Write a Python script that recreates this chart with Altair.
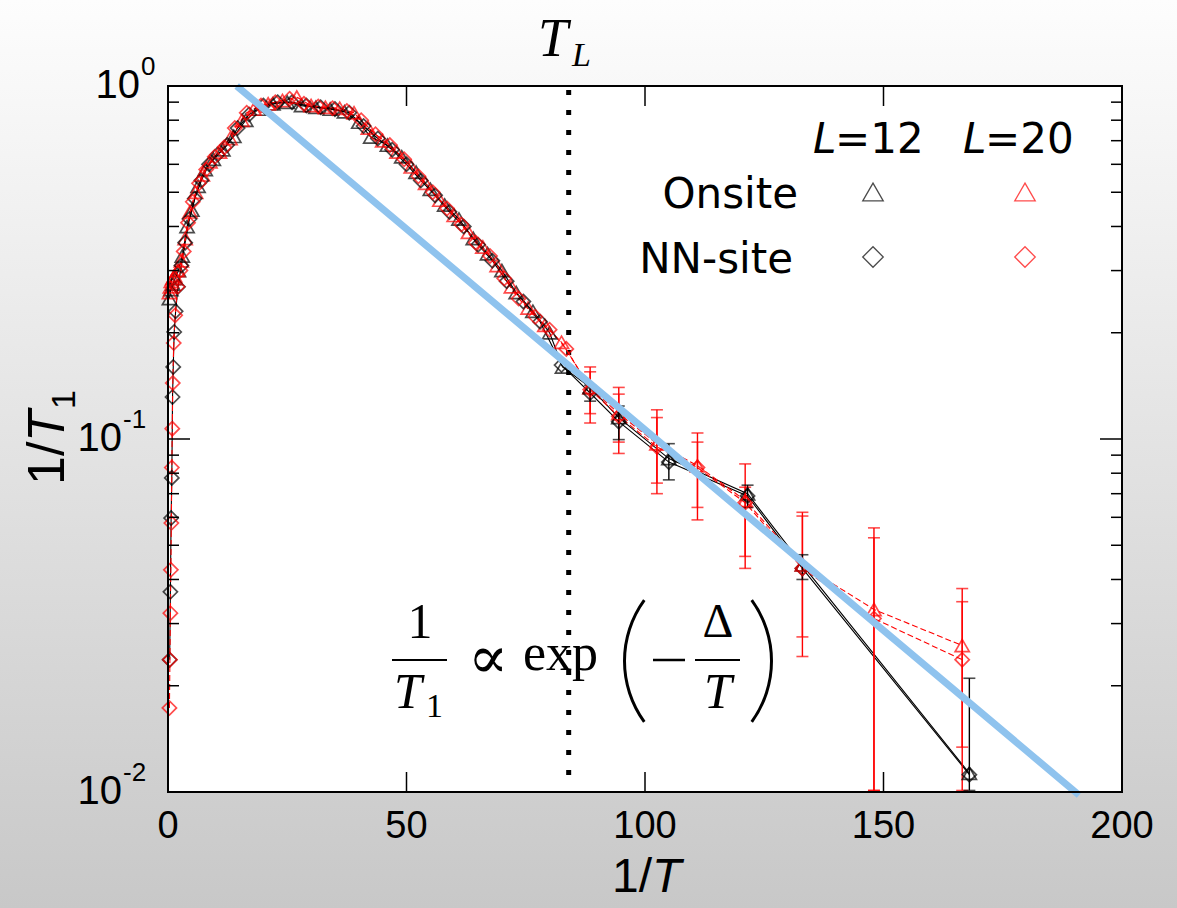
import altair as alt
import pandas as pd

# ---------------- data ----------------
# Onsite, L=12 (black triangles)
x_on12 = [0.3, 0.6, 1.0, 1.5, 2.2, 3.0, 4.0, 5.0, 6.3, 7.8, 9.5, 11.5, 13.8, 16.3, 19.0, 22.0, 25.0, 28.0,
          31.0, 34.0, 37.0, 40.0, 42.5, 46.0, 49.0, 52.0, 55.0, 58.0, 61.0, 64.0, 67.0, 70.0, 73.0, 76.5,
          80.0, 82.7, 88.5, 94.5, 105.0, 121.5, 133.0, 168.0]
y_on12 = [0.25, 0.265, 0.275, 0.285, 0.30, 0.33, 0.40, 0.445, 0.52, 0.58, 0.62, 0.66, 0.72, 0.80, 0.86, 0.89,
          0.90, 0.88, 0.87, 0.86, 0.845, 0.79, 0.717, 0.68, 0.63, 0.57, 0.51, 0.46, 0.42, 0.37, 0.335, 0.30,
          0.26, 0.23, 0.20, 0.16, 0.14, 0.115, 0.088, 0.070, 0.044, 0.0113]

# Onsite, L=20 (red triangles)
x_on20 = [0.3, 0.5, 0.7, 1.0, 1.4, 2.0, 2.8, 3.6, 4.6, 5.8, 7.2, 8.8, 10.8, 13.0, 15.5, 18.0, 21.0, 24.0,
          27.0, 30.0, 33.0, 36.0, 39.0, 42.0, 45.0, 48.0, 51.0, 54.0, 57.0, 60.0, 63.0, 66.0, 69.0, 72.0,
          75.5, 79.0, 82.5, 88.5, 94.5, 102.5, 111.0, 121.0, 133.0, 148.0, 166.5]
y_on20 = [0.26, 0.27, 0.28, 0.285, 0.29, 0.30, 0.32, 0.37, 0.44, 0.50, 0.56, 0.61, 0.65, 0.71, 0.80, 0.86,
          0.89, 0.91, 0.93, 0.88, 0.87, 0.865, 0.84, 0.76, 0.70, 0.65, 0.59, 0.53, 0.475, 0.43, 0.385, 0.35,
          0.31, 0.27, 0.235, 0.21, 0.188, 0.14, 0.118, 0.097, 0.084, 0.067, 0.044, 0.0329, 0.026]

# NN-site, L=12 (black diamonds)
x_nn12 = [0.35, 0.5, 0.65, 0.8, 0.95, 1.1, 1.3, 1.6, 2.1, 2.8, 3.6, 4.5, 5.6, 7.0, 8.6, 10.4, 12.4, 14.6,
          17.0, 20.0, 23.0, 26.0, 29.0, 32.0, 35.0, 38.0, 41.0, 44.0, 47.0, 50.0, 53.0, 56.0, 59.0, 62.0,
          65.0, 68.0, 71.0, 74.5, 78.0, 82.5, 88.5, 94.5, 105.0, 121.5, 133.0, 168.0]
y_nn12 = [0.0237, 0.0369, 0.0597, 0.0776, 0.1315, 0.160, 0.201, 0.23, 0.27, 0.31, 0.36, 0.42, 0.48, 0.54,
          0.60, 0.64, 0.68, 0.76, 0.83, 0.88, 0.90, 0.90, 0.88, 0.87, 0.86, 0.84, 0.77, 0.71, 0.66, 0.60,
          0.54, 0.49, 0.44, 0.40, 0.355, 0.32, 0.28, 0.245, 0.215, 0.162, 0.135, 0.112, 0.086, 0.069, 0.043,
          0.0112]

# NN-site, L=20 (red diamonds)
x_nn20 = [0.3, 0.4, 0.5, 0.6, 0.7, 0.8, 0.9, 1.0, 1.2, 1.5, 2.0, 2.6, 3.3, 4.2, 5.2, 6.5, 8.0, 9.8, 11.8,
          14.0, 16.5, 19.5, 22.5, 25.5, 28.5, 31.5, 34.5, 37.5, 40.5, 43.5, 46.5, 49.5, 52.5, 55.5, 58.5,
          61.5, 64.5, 67.5, 70.5, 73.5, 77.0, 80.0, 83.5, 88.5, 94.5, 102.5, 111.0, 121.0, 133.0, 148.0, 166.5]
y_nn20 = [0.0173, 0.0237, 0.0321, 0.0426, 0.0578, 0.083, 0.107, 0.144, 0.187, 0.224, 0.27, 0.30, 0.34, 0.41,
          0.47, 0.53, 0.58, 0.63, 0.67, 0.76, 0.84, 0.88, 0.90, 0.92, 0.89, 0.875, 0.865, 0.85, 0.80, 0.73,
          0.68, 0.62, 0.555, 0.50, 0.45, 0.405, 0.36, 0.33, 0.285, 0.25, 0.222, 0.204, 0.18, 0.138, 0.116,
          0.095, 0.083, 0.066, 0.043, 0.031, 0.0237]

# error bars (x, lower, upper)
err20_x = [88.5, 94.5, 102.5, 111.0, 121.0, 133.0, 148.0, 166.5,
           88.5, 94.5, 102.5, 111.0, 121.0, 133.0, 148.0, 166.5]
err20_lo = [0.111, 0.091, 0.070, 0.059, 0.043, 0.0242, 0.0101, 0.0101,
            0.118, 0.098, 0.075, 0.064, 0.0465, 0.0275, 0.0101, 0.0134]
err20_hi = [0.160, 0.140, 0.121, 0.104, 0.085, 0.062, 0.056, 0.0377,
            0.155, 0.134, 0.115, 0.098, 0.073, 0.0605, 0.0525, 0.0346]
err12_x = [88.5, 94.5, 105.0, 121.5, 133.0, 168.0]
err12_lo = [0.128, 0.0996, 0.0766, 0.064, 0.040, 0.0101]
err12_hi = [0.142, 0.124, 0.097, 0.074, 0.047, 0.021]

# exponential guide line
fit_x = [14.4, 191.0]
fit_y = [1.0, 0.0098]

# T_L marker
tl_x = [84.0]

# axis ticks and labels
x_ticks = [0, 50, 100, 150, 200]
x_inner_ticks = [50, 100, 150]
y_major = [0.01, 0.1, 1.0]
y_minor = [0.02, 0.03, 0.04, 0.05, 0.06, 0.07, 0.08, 0.09, 0.2, 0.3, 0.4, 0.5, 0.6, 0.7, 0.8, 0.9]

# ---------------- chart ----------------
W, H = 954, 706
xs = alt.Scale(domain=[0, 200], nice=False, zero=False)
ys = alt.Scale(type="log", domain=[0.01, 1], nice=False)


def X(f):
    return alt.X(f, scale=xs, axis=None)


def Y(f):
    return alt.Y(f, scale=ys, axis=None)


rows = []
for kind, L, xv, yv in [("Onsite", "12", x_on12, y_on12), ("Onsite", "20", x_on20, y_on20),
                        ("NN-site", "12", x_nn12, y_nn12), ("NN-site", "20", x_nn20, y_nn20)]:
    for a, b in zip(xv, yv):
        rows.append({"x": a, "y": b, "kind": kind, "L": L, "series": kind + L})
df = pd.DataFrame(rows)

err = pd.DataFrame(
    [{"x": a, "lo": l, "hi": h, "L": "20"} for a, l, h in zip(err20_x, err20_lo, err20_hi)]
    + [{"x": a, "lo": l, "hi": h, "L": "12"} for a, l, h in zip(err12_x, err12_lo, err12_hi)]
)

cscale = alt.Scale(domain=["12", "20"], range=["#000000", "#ff0000"])
color = alt.Color("L:N", scale=cscale, legend=None)
shape = alt.Shape("kind:N", scale=alt.Scale(domain=["Onsite", "NN-site"], range=["triangle-up", "diamond"]),
                  legend=None)

one = alt.Data(values=[{"a": 1}])


def txt(text, x, y, size, font="Liberation Sans", style="normal", align="left",
        baseline="alphabetic", angle=0):
    return alt.Chart(one).mark_text(text=text, font=font, fontSize=size, fontStyle=style, align=align,
                                    baseline=baseline, angle=angle, color="black").encode(
        x=alt.value(x), y=alt.value(y))


bg = alt.Chart(one).mark_rect(
    fill={"gradient": "linear", "x1": 0, "y1": 0, "x2": 0, "y2": 1,
          "stops": [{"offset": 0, "color": "#fdfdfd"}, {"offset": 1, "color": "#c8c8c8"}]},
    clip=False).encode(x=alt.value(-168), x2=alt.value(W + 55), y=alt.value(-86), y2=alt.value(H + 116))
plotbg = alt.Chart(one).mark_rect(fill="white").encode(
    x=alt.value(0), x2=alt.value(W), y=alt.value(0), y2=alt.value(H))

dotted = alt.Chart(pd.DataFrame({"v": tl_x})).mark_rule(
    color="black", strokeWidth=5, strokeDash=[5, 15], strokeCap="butt").encode(
    x=X("v:Q"), y=alt.value(4), y2=alt.value(H - 2))

lines_black = alt.Chart(df[df.L == "12"]).mark_line(strokeWidth=1.1, color="black").encode(
    x=X("x:Q"), y=Y("y:Q"), detail="series:N", order="x:Q")
lines_red = alt.Chart(df[df.L == "20"]).mark_line(strokeWidth=1.1, color="#ff0000", strokeDash=[6, 3]).encode(
    x=X("x:Q"), y=Y("y:Q"), detail="series:N", order="x:Q")

ebars = alt.Chart(err).mark_rule(strokeWidth=1.4).encode(
    x=X("x:Q"), y=Y("lo:Q"), y2="hi:Q", color=color)
caps_lo = alt.Chart(err).mark_tick(orient="horizontal", size=12, thickness=1.6).encode(
    x=X("x:Q"), y=Y("lo:Q"), color=color)
caps_hi = alt.Chart(err).mark_tick(orient="horizontal", size=12, thickness=1.6).encode(
    x=X("x:Q"), y=Y("hi:Q"), color=color)

pts = alt.Chart(df).mark_point(filled=False, size=200, strokeWidth=1.7, clip=False).encode(
    x=X("x:Q"), y=Y("y:Q"), color=color, shape=shape)

fit = alt.Chart(pd.DataFrame({"x": fit_x, "y": fit_y})).mark_line(
    color="#8fc3ee", strokeWidth=7, clip=False, strokeCap="butt").encode(x=X("x:Q"), y=Y("y:Q"))

frame = alt.Chart(one).mark_rect(fill="white", fillOpacity=0, stroke="black", strokeWidth=2).encode(
    x=alt.value(0), x2=alt.value(W), y=alt.value(0), y2=alt.value(H))

ymaj = pd.DataFrame({"v": y_major})
ymin = pd.DataFrame({"v": y_minor})
tick_layers = [
    alt.Chart(ymaj).mark_rule(color="black", strokeWidth=1.5).encode(y=Y("v:Q"), x=alt.value(0), x2=alt.value(22)),
    alt.Chart(ymin).mark_rule(color="black", strokeWidth=1.5).encode(y=Y("v:Q"), x=alt.value(0), x2=alt.value(11)),
    alt.Chart(ymaj).mark_rule(color="black", strokeWidth=1.5).encode(y=Y("v:Q"), x=alt.value(W - 22), x2=alt.value(W)),
    alt.Chart(ymin).mark_rule(color="black", strokeWidth=1.5).encode(y=Y("v:Q"), x=alt.value(W - 11), x2=alt.value(W)),
    alt.Chart(pd.DataFrame({"v": x_inner_ticks})).mark_rule(color="black", strokeWidth=1.5).encode(
        x=X("v:Q"), y=alt.value(H - 20), y2=alt.value(H)),
    alt.Chart(pd.DataFrame({"v": x_inner_ticks})).mark_rule(color="black", strokeWidth=1.5).encode(
        x=X("v:Q"), y=alt.value(0), y2=alt.value(20)),
]

xlabels = alt.Chart(pd.DataFrame({"v": x_ticks, "t": [str(v) for v in x_ticks]})).mark_text(
    font="Liberation Sans", fontSize=38, align="center", baseline="alphabetic", color="black").encode(
    x=X("v:Q"), y=alt.value(752), text="t:N")


def ylab(val, exp, base_right):
    base = alt.Chart(one).mark_text(text="10", font="Liberation Sans", fontSize=40, align="right",
                                    baseline="middle", color="black").encode(
        x=alt.value(base_right), y=alt.datum(val, scale=ys))
    sup = alt.Chart(one).mark_text(text=exp, font="Liberation Sans", fontSize=26, align="left",
                                   baseline="middle", dy=-19, color="black").encode(
        x=alt.value(base_right + 1), y=alt.datum(val, scale=ys))
    return [base, sup]


ylabels = ylab(1.0, "0", -28) + ylab(0.1, "-1", -46) + ylab(0.01, "-2", -46)

titles = [
    # x title 1/T
    txt("1/", 444, 806, 48, align="left"),
    txt("T", 484, 806, 48, style="italic", align="left"),
    # y title 1/T1 (rotated)
    txt("1/", -104, 399, 52, angle=270),
    txt("T", -104, 356, 52, style="italic", angle=270),
    txt("1", -93, 323, 34, angle=270),
    # T_L
    txt("T", 370, -30, 54, font="Liberation Serif", style="italic"),
    txt("L", 404, -20, 34, font="Liberation Serif", style="italic"),
]

legend = [
    txt("L", 645, 67, 42, font="DejaVu Sans", style="italic"),
    txt("=12", 667, 67, 42, font="DejaVu Sans"),
    txt("L", 795, 67, 42, font="DejaVu Sans", style="italic"),
    txt("=20", 817, 67, 42, font="DejaVu Sans"),
    txt("Onsite", 630, 122, 42, font="DejaVu Sans", align="right"),
    txt("NN-site", 625, 187, 42, font="DejaVu Sans", align="right"),
    alt.Chart(one).mark_point(shape="triangle-up", size=420, filled=False, strokeWidth=1.3, color="black").encode(
        x=alt.value(705), y=alt.value(106)),
    alt.Chart(one).mark_point(shape="triangle-up", size=420, filled=False, strokeWidth=1.3, color="#ff0000").encode(
        x=alt.value(857), y=alt.value(106)),
    alt.Chart(one).mark_point(shape="diamond", size=420, filled=False, strokeWidth=1.3, color="black").encode(
        x=alt.value(705), y=alt.value(171)),
    alt.Chart(one).mark_point(shape="diamond", size=420, filled=False, strokeWidth=1.3, color="#ff0000").encode(
        x=alt.value(857), y=alt.value(171)),
]

serif = "Liberation Serif"
formula = [
    txt("1", 252, 552, 50, font=serif, align="center"),
    alt.Chart(one).mark_rule(color="black", strokeWidth=2).encode(
        x=alt.value(224), x2=alt.value(279), y=alt.value(574)),
    txt("T", 226, 622, 50, font=serif, style="italic"),
    txt("1", 258, 631, 34, font=serif),
    txt("\u221d", 320, 592, 60, font="DejaVu Serif", align="center"),
    txt("exp", 355, 584, 52, font=serif),
    alt.Chart(one).mark_arc(theta=4.084, theta2=5.341, radius=105, radius2=102, color="black").encode(
        x=alt.value(560), y=alt.value(575)),
    alt.Chart(one).mark_rule(color="black", strokeWidth=2.5).encode(
        x=alt.value(485), x2=alt.value(517), y=alt.value(574)),
    txt("\u0394", 550, 551, 48, font=serif, align="center"),
    alt.Chart(one).mark_rule(color="black", strokeWidth=2).encode(
        x=alt.value(527), x2=alt.value(572), y=alt.value(574)),
    txt("T", 550, 622, 50, font=serif, style="italic", align="center"),
    alt.Chart(one).mark_arc(theta=0.942, theta2=2.199, radius=105, radius2=102, color="black").encode(
        x=alt.value(500), y=alt.value(575)),
]

layers = ([bg, plotbg, dotted, lines_black, lines_red, ebars, caps_lo, caps_hi, pts, fit, frame]
          + tick_layers + [xlabels] + ylabels + titles + legend + formula)

chart = alt.layer(*layers).properties(
    width=W, height=H,
    padding={"left": 168, "top": 86, "right": 55, "bottom": 116},
    autosize=alt.AutoSizeParams(type="none"),
    background="#e0e0e0",
).configure_view(stroke=None)

chart.save("out.html", embed_options={"renderer": "svg", "actions": False})
